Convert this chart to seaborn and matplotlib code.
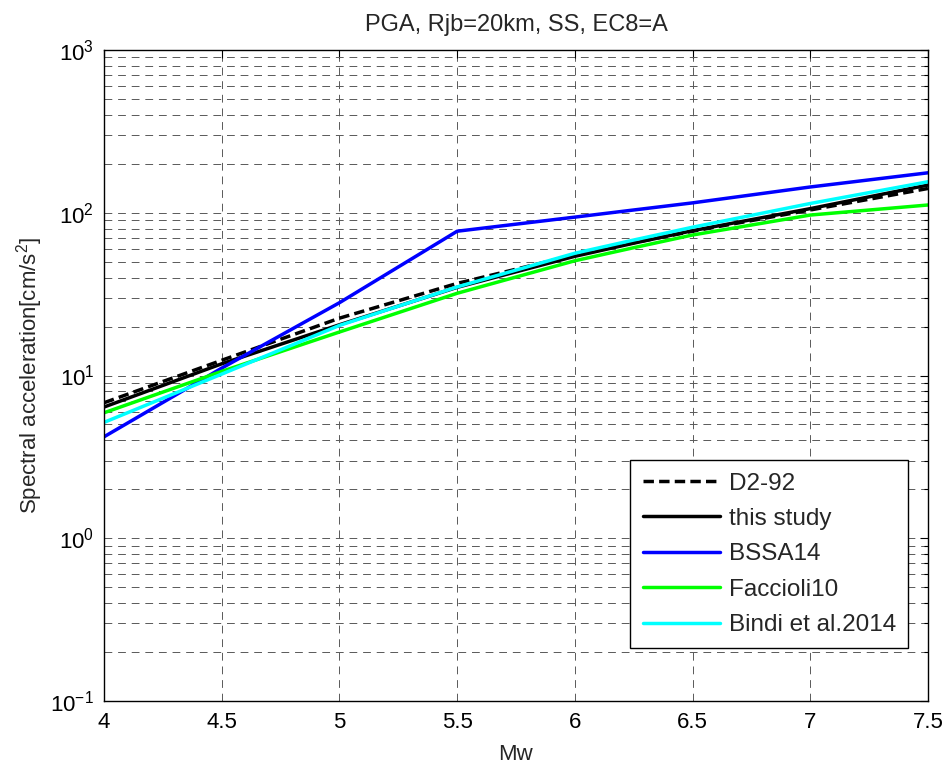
import numpy as np
import pandas as pd
import matplotlib
matplotlib.use("Agg")
import matplotlib.pyplot as plt
import seaborn as sns
from matplotlib.ticker import LogLocator, FixedLocator, NullFormatter

mw = [4.0, 4.5, 5.0, 5.5, 6.0, 6.25, 6.5, 7.0, 7.5]
d2_92 = [6.8, 12.4, 22.5, 36.8, 55.0, 65.5, 77.0, 104.0, 141.0]
this_study = [6.4, 11.8, 20.5, 34.8, 54.0, 65.0, 77.6, 106.0, 148.0]
bssa14 = [4.2, 11.1, 28.0, 77.0, 94.0, 104.0, 115.0, 144.0, 176.0]
faccioli10 = [5.9, 10.6, 18.5, 32.0, 50.7, 61.0, 73.0, 96.8, 111.6]
bindi14 = [5.15, 10.2, 20.3, 35.0, 56.4, 68.0, 81.5, 114.0, 155.0]

labels = ["D2-92", "this study", "BSSA14", "Faccioli10", "Bindi et al.2014"]
series = [d2_92, this_study, bssa14, faccioli10, bindi14]
colors = {"D2-92": "#000000", "this study": "#000000", "BSSA14": "#0000FF",
          "Faccioli10": "#00FF00", "Bindi et al.2014": "#00FFFF"}
dashes = {"D2-92": (3, 1.5), "this study": "", "BSSA14": "", "Faccioli10": "",
          "Bindi et al.2014": ""}

df = pd.concat([pd.DataFrame({"Mw": mw, "SA": s, "model": l}) for l, s in zip(labels, series)])

sns.set_style("white")
plt.rcParams['font.family'] = ['Liberation Sans', 'DejaVu Sans']
plt.rcParams['mathtext.fontset'] = 'custom'
plt.rcParams['mathtext.rm'] = 'Liberation Sans'
plt.rcParams['mathtext.it'] = 'Liberation Sans'

FS = 16

fig = plt.figure(figsize=(9.49, 7.69), dpi=100)
ax = fig.add_axes([104/949, 1-701/769, 824/949, 651/769])

sns.lineplot(data=df, x="Mw", y="SA", hue="model", style="model", hue_order=labels,
             style_order=labels, palette=colors, dashes=dashes, linewidth=2.5, ax=ax,
             legend=True)

ax.set_yscale("log")
ax.set_xlim(4, 7.5)
ax.set_ylim(0.1, 1000)
ax.xaxis.set_major_locator(FixedLocator([4, 4.5, 5, 5.5, 6, 6.5, 7, 7.5]))
ax.set_xticklabels(["4", "4.5", "5", "5.5", "6", "6.5", "7", "7.5"])
ax.yaxis.set_major_locator(LogLocator(base=10, numticks=10))
ax.yaxis.set_minor_locator(LogLocator(base=10, subs=np.arange(2, 10), numticks=20))
ax.yaxis.set_minor_formatter(NullFormatter())

gridkw = dict(color="0.35", linestyle=(0, (8, 6)), linewidth=0.7)
ax.grid(True, which="major", axis="both", **gridkw)
ax.grid(True, which="minor", axis="y", **gridkw)
ax.set_axisbelow(True)

ax.tick_params(which="both", direction="in", top=True, right=True, labelsize=FS, colors="black")
ax.tick_params(axis="x", which="major", pad=8)
ax.tick_params(axis="y", which="major", pad=7)
ax.tick_params(which="major", length=6, width=0.8)
ax.tick_params(which="minor", length=3, width=0.8)
for sp in ax.spines.values():
    sp.set_color("black")
    sp.set_linewidth(1.0)

ax.set_title("PGA, Rjb=20km, SS, EC8=A", fontsize=17, pad=14)
ax.set_xlabel("Mw", fontsize=FS, labelpad=8)
ax.set_ylabel("Spectral acceleration[cm/s$^2$]", fontsize=FS, labelpad=4)

handles, lbls = ax.get_legend_handles_labels()
leg = ax.legend(handles, lbls, loc="lower right", bbox_to_anchor=(0.976, 0.081),
                borderaxespad=0, fontsize=17.5, frameon=True, fancybox=False,
                handlelength=3.2, handletextpad=0.35, labelspacing=0.55,
                borderpad=0.5, edgecolor="black", framealpha=1)
leg.get_frame().set_linewidth(1.0)
for h in leg.get_lines():
    h.set_linewidth(2.5)

fig.savefig("out.png", dpi=100)
